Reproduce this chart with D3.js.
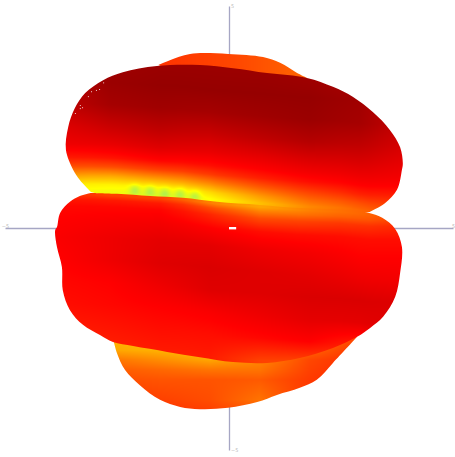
<!DOCTYPE html>
<html><head><meta charset="utf-8">
<style>html,body{margin:0;padding:0;background:#fff}svg{display:block}text{font-family:"DejaVu Sans",sans-serif}</style>
<script src="https://cdnjs.cloudflare.com/ajax/libs/d3/7.8.5/d3.min.js"></script>
</head><body>
<script>
const axisTicks = [-5, 5];
const heatLevels = [0, 1, 2, 3, 4];
const heatColors = ["#960000", "#ff0000", "#ff8000", "#ffff00", "#80e878"];

// Outlines, axis units [x, y]
const upperOutline = [[-3.08,.81],[-3.33,1.08],[-3.48,1.31],[-3.64,1.76],[-3.59,2.27],[-3.44,2.70],[-3.21,3.04],[-2.81,3.33],[-2.37,3.51],[-1.61,3.65],[-.65,3.67],[.09,3.60],[.85,3.49],[1.74,3.38],[2.32,3.18],[2.77,2.95],[3.21,2.61],[3.59,2.21],[3.82,1.82],[3.88,1.46],[3.86,1.31],[3.75,.86],[3.48,.56],[3.13,.36]];
const upperUnderside = [[0, 0]];
const seamLine = [[-3.08,.79],[-2.5,.77],[-1.76,.72],[-1.03,.68],[-.27,.59],[.69,.52],[1.58,.45],[2.48,.41],[3.13,.34]];
const lowerRest = [[3.42,.23],[3.71,-.02],[3.86,-.43],[3.82,-1.01],[3.71,-1.55],[3.44,-2.0],[3.15,-2.25],[2.86,-2.45],[2.32,-2.70],[1.58,-2.93],[.85,-3.04],[.09,-3.02],[-.65,-2.91],[-1.38,-2.79],[-2.14,-2.66],[-2.59,-2.57],[-2.88,-2.41],[-3.26,-2.18],[-3.55,-1.85],[-3.71,-1.40],[-3.73,-.88],[-3.84,-.43],[-3.88,-.05],[-3.84,.02],[-3.77,.34],[-3.55,.59],[-3.33,.72],[-3.08,.79]];
const bottomOutline = [[-2.57,-2.57],[-2.5,-2.82],[-2.32,-3.2],[-1.99,-3.54],[-1.54,-3.87],[-1.09,-4.03],[-.65,-4.08],[-.02,-4.05],[.63,-3.92],[1.07,-3.76],[1.58,-3.6],[1.96,-3.42],[2.32,-3.04],[2.86,-2.45]];
const topOutline = [[-1.58,3.67],[-1.32,3.78],[-.87,3.92],[-.02,3.92],[.76,3.85],[1.14,3.72],[1.52,3.49],[1.74,3.38]];

// Heat tables; the body rows are distances above (+) or below (-) the seam
const bodyX = [-3.77,-2.66,-1.54,-.42,.69,1.8,2.92,4.04];
const upperRows = [3,2.5,2,1.5,1.1,.8,.6,.4,.2,.05,-.2];
const upperHeat = [
 [.3,.1,.05,.05,.05,.1,.2,.5],
 [.3,.05,0,0,0,0,.1,.5],
 [.4,.15,.1,.15,.1,.05,.15,.5],
 [.7,.5,.4,.5,.4,.3,.4,.65],
 [.85,.8,.7,.8,.75,.65,.65,.8],
 [1.2,1.15,1.05,1.1,1,.9,.85,.9],
 [1.6,1.6,1.5,1.45,1.25,1.1,1,1],
 [2.2,2.3,2.2,2.05,1.7,1.45,1.25,1.2],
 [2.8,2.9,2.9,2.7,2.2,1.8,1.6,1.4],
 [3,3.1,3.15,3,2.5,2.05,1.8,1.6],
 [3,3.1,3.15,3,2.5,2.05,1.8,1.6]];
const lowerRows = [.2,-.05,-.15,-.3,-.6,-1,-1.5,-2,-2.5,-3,-3.5];
const lowerHeat = [
 [1.3,1.5,1.5,2,2.3,2,1.8,1.6],
 [1.3,1.5,1.5,2,2.3,2,1.8,1.6],
 [1.15,1.2,1.2,1.6,2,1.85,1.7,1.5],
 [1.05,1.05,1.03,1.3,1.6,1.5,1.4,1.3],
 [1,.95,.9,1,1.1,1.1,1.1,1.1],
 [.95,.85,.75,.75,.85,.9,1,1],
 [1,.85,.7,.65,.7,.75,.85,.9],
 [1.05,1,.85,.7,.7,.65,.65,.7],
 [1.1,1.05,1,.95,.85,.75,.75,.65],
 [1.2,1.15,1.1,1.1,1.05,1,1.25,.8],
 [1.3,1.25,1.2,1.2,1.5,1.6,1.6,1.2]];
const bottomX = [-2.66,-1.54,-.42,.69,1.8,2.92];
const bottomY = [-2.52,-2.75,-2.97,-3.2,-3.42,-3.87,-4.1];
const bottomHeat = [
 [2.4,2.5,2.5,2.4,2,1.5],
 [2.3,2.4,2.5,2.3,1.8,1.4],
 [1.9,2.1,2.3,2.05,1.55,1.35],
 [1.7,1.8,1.9,1.9,1.5,1.3],
 [1.6,1.65,1.65,1.7,1.45,1.3],
 [1.4,1.5,1.6,1.9,1.4,1.3],
 [1.4,1.4,1.5,1.7,1.4,1.3]];
const topX = [-1.54,.13,1.8];
const topY = [4,3.1];
const topHeat = [[1.4,1.55,1.8],[1.4,1.55,1.8]];
const seamBlobs = [[-2.1,.86],[-1.76,.83],[-1.43,.79],[-1.09,.77],[-.76,.72]];
const seamBlobHeat = .5, seamBlobRadius = .09;
const specks = [[-2.81,3.28],[-2.9,3.13],[-2.97,3.11],[-3.08,3.08],[-3.15,2.97],[-3.33,2.77],[-3.33,2.70],[-3.44,2.59],[-3.28,2.72]];

const W = 455, H = 457;
const x = d3.scaleLinear().domain([-5, 5]).range([5, 453]);
const y = d3.scaleLinear().domain([-5, 5]).range([450, 6]);
const color = d3.scaleLinear().domain(heatLevels).range(heatColors).clamp(true);
const seam = d3.scaleLinear().domain(seamLine.map(d => d[0])).range(seamLine.map(d => d[1])).clamp(true);

const svg = d3.select("body").append("svg").attr("width", W).attr("height", H);
const defs = svg.append("defs");

svg.append("g").attr("transform", `translate(0,${y(0)})`)
  .call(d3.axisTop(x).tickValues(axisTicks).tickSize(0).tickPadding(0))
  .call(g => { g.select(".domain").attr("stroke", "#a6a6c4").attr("stroke-width", 1.3);
               g.selectAll("text").attr("font-size", 5).attr("fill", "#bbb"); });
svg.append("g").attr("transform", `translate(${x(0)},0)`)
  .call(d3.axisRight(y).tickValues(axisTicks).tickSize(0).tickPadding(2))
  .call(g => { g.select(".domain").attr("stroke", "#a6a6c4").attr("stroke-width", 1.3);
               g.selectAll("text").attr("font-size", 5).attr("fill", "#bbb"); });

function bisect(arr, v) {
  const asc = arr[1] > arr[0];
  let i = 0;
  while (i < arr.length - 2 && (asc ? v > arr[i + 1] : v < arr[i + 1])) i++;
  const t = Math.max(0, Math.min(1, (v - arr[i]) / (arr[i + 1] - arr[i])));
  return [i, t];
}
const line = d3.line().x(d => x(d[0])).y(d => y(d[1])).curve(d3.curveCatmullRom);
const straight = d3.line().x(d => x(d[0])).y(d => y(d[1]));

function paint(name, outline, underside, xs, ys, table, relative, blobs) {
  const canvas = document.createElement("canvas");
  canvas.width = W; canvas.height = H;
  const ctx = canvas.getContext("2d");
  const img = ctx.createImageData(W, H);
  for (let py = 0; py < H; py++) {
    const dy = y.invert(py + .5);
    for (let px = 0; px < W; px++) {
      const dx = x.invert(px + .5);
      const [i, ti] = bisect(xs, dx);
      const [j, tj] = bisect(ys, relative ? dy - seam(dx) : dy);
      let h = (table[j][i] * (1 - ti) + table[j][i + 1] * ti) * (1 - tj)
            + (table[j + 1][i] * (1 - ti) + table[j + 1][i + 1] * ti) * tj;
      for (const b of blobs) {
        const d2 = ((dx - b[0]) ** 2 + (dy - b[1]) ** 2) / (seamBlobRadius ** 2);
        if (d2 < 12) h += seamBlobHeat * Math.exp(-d2 / 2);
      }
      const c = d3.rgb(color(h));
      const k = (py * W + px) * 4;
      img.data[k] = c.r; img.data[k + 1] = c.g; img.data[k + 2] = c.b; img.data[k + 3] = 255;
    }
  }
  ctx.putImageData(img, 0, 0);
  const close = underside.length ? "L" + straight(underside).slice(1) : "";
  defs.append("clipPath").attr("id", "clip-" + name).append("path").attr("d", line(outline) + close + "Z");
  svg.append("image").attr("width", W).attr("height", H)
    .attr("href", canvas.toDataURL())
    .attr("clip-path", `url(#clip-${name})`);
}
paint("top", topOutline, [[0, 3]], topX, topY, topHeat, false, []);
paint("bottom", bottomOutline, [[0, -2.5]], bottomX, bottomY, bottomHeat, false, []);
paint("upper", upperOutline, upperUnderside, bodyX, upperRows, upperHeat, true, seamBlobs);
paint("lower", seamLine.concat(lowerRest), [], bodyX, lowerRows, lowerHeat, true, []);

svg.append("g").selectAll("rect").data(specks).join("rect")
  .attr("x", d => x(d[0])).attr("y", d => y(d[1])).attr("width", 1).attr("height", 1)
  .attr("fill", "#fff").attr("opacity", .8);
svg.append("rect").attr("x", x(0)).attr("y", y(0) - 1).attr("width", x(.16) - x(0)).attr("height", 2.4).attr("fill", "#fff");
</script>
</body></html>
